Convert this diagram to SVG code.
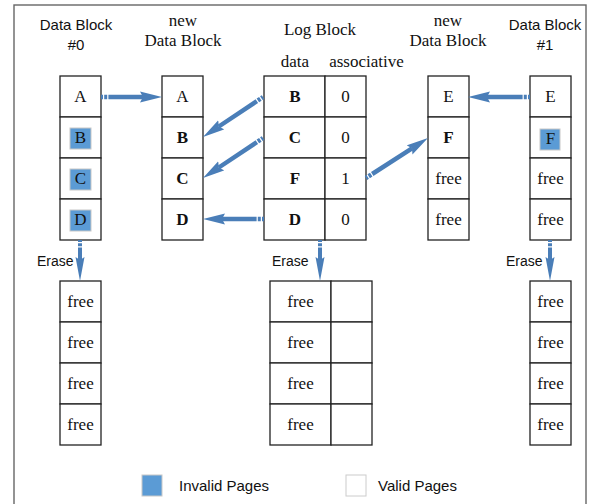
<svg xmlns="http://www.w3.org/2000/svg" width="593" height="504" viewBox="0 0 593 504">
<style>
.cell{fill:#fff;stroke:#222;stroke-width:1.3}
.s{font-family:"Liberation Serif","Times New Roman",serif;font-size:17px;fill:#111;text-anchor:middle}
.b{font-weight:bold}
.h{font-family:"Liberation Sans",Arial,sans-serif;font-size:15px;fill:#111;text-anchor:middle}
.e{font-family:"Liberation Sans",Arial,sans-serif;font-size:14px;fill:#111}
.inv{fill:#5b9bd5;stroke:#c8c8c8;stroke-width:1}
.arr{stroke:#4a7eb8;stroke-width:4.5;fill:none;stroke-dasharray:2 1.2 3 1.2 400}
</style>
<defs>
<marker id="ah" markerUnits="userSpaceOnUse" markerWidth="22" markerHeight="12" refX="3" refY="6" orient="auto">
<path d="M0,0.5 L22,6 L0,11.5 L3,6 z" fill="#4a7eb8"/>
</marker>
<marker id="ahv" markerUnits="userSpaceOnUse" markerWidth="24" markerHeight="10" refX="3" refY="5" orient="auto">
<path d="M0,0.5 L24,5 L0,9.5 L3,5 z" fill="#4a7eb8"/>
</marker>
</defs>
<rect x="14" y="5" width="572" height="520" fill="none" stroke="#666" stroke-width="1.4"/>

<g id="data-block-0">
<text class="h" x="76" y="30">Data Block</text>
<text class="h" x="76" y="50">#0</text>
<rect class="cell" x="60" y="76" width="41" height="41"/>
<rect class="cell" x="60" y="117" width="41" height="41"/>
<rect class="cell" x="60" y="158" width="41" height="41"/>
<rect class="cell" x="60" y="199" width="41" height="41"/>
<rect class="inv" x="70" y="128" width="21" height="21"/>
<rect class="inv" x="70" y="169" width="21" height="21"/>
<rect class="inv" x="70" y="210" width="21" height="21"/>
<text class="s" x="80.5" y="102">A</text>
<text class="s" x="80.5" y="143">B</text>
<text class="s" x="80.5" y="184">C</text>
<text class="s" x="80.5" y="225">D</text>
</g>

<g id="new-data-block-0">
<text class="s" x="183" y="26">new</text>
<text class="s" x="183" y="46">Data Block</text>
<rect class="cell" x="162" y="76" width="41" height="41"/>
<rect class="cell" x="162" y="117" width="41" height="41"/>
<rect class="cell" x="162" y="158" width="41" height="41"/>
<rect class="cell" x="162" y="199" width="41" height="41"/>
<text class="s" x="182.5" y="102">A</text>
<text class="s b" x="182.5" y="143">B</text>
<text class="s b" x="182.5" y="184">C</text>
<text class="s b" x="182.5" y="225">D</text>
</g>

<g id="log-block">
<text class="s" x="320" y="35">Log Block</text>
<text class="s" x="295" y="67">data</text>
<text class="s" x="366.5" y="67">associative</text>
<rect class="cell" x="264" y="76" width="61" height="41"/>
<rect class="cell" x="264" y="117" width="61" height="41"/>
<rect class="cell" x="264" y="158" width="61" height="41"/>
<rect class="cell" x="264" y="199" width="61" height="41"/>
<rect class="cell" x="325" y="76" width="41" height="41"/>
<rect class="cell" x="325" y="117" width="41" height="41"/>
<rect class="cell" x="325" y="158" width="41" height="41"/>
<rect class="cell" x="325" y="199" width="41" height="41"/>
<text class="s b" x="295" y="102">B</text>
<text class="s b" x="295" y="143">C</text>
<text class="s b" x="295" y="184">F</text>
<text class="s b" x="295" y="225">D</text>
<text class="s" x="345.5" y="102">0</text>
<text class="s" x="345.5" y="143">0</text>
<text class="s" x="345.5" y="184">1</text>
<text class="s" x="345.5" y="225">0</text>
</g>

<g id="new-data-block-1">
<text class="s" x="448" y="26">new</text>
<text class="s" x="448" y="46">Data Block</text>
<rect class="cell" x="428" y="76" width="41" height="41"/>
<rect class="cell" x="428" y="117" width="41" height="41"/>
<rect class="cell" x="428" y="158" width="41" height="41"/>
<rect class="cell" x="428" y="199" width="41" height="41"/>
<text class="s" x="448.5" y="102">E</text>
<text class="s b" x="448.5" y="143">F</text>
<text class="s" x="448.5" y="184">free</text>
<text class="s" x="448.5" y="225">free</text>
</g>

<g id="data-block-1">
<text class="h" x="545" y="30">Data Block</text>
<text class="h" x="545" y="50">#1</text>
<rect class="cell" x="530" y="76" width="41" height="41"/>
<rect class="cell" x="530" y="117" width="41" height="41"/>
<rect class="cell" x="530" y="158" width="41" height="41"/>
<rect class="cell" x="530" y="199" width="41" height="41"/>
<rect class="inv" x="540" y="129" width="20" height="21"/>
<text class="s" x="550.5" y="102">E</text>
<text class="s" x="550.5" y="144">F</text>
<text class="s" x="550.5" y="184">free</text>
<text class="s" x="550.5" y="225">free</text>
</g>

<g id="erased-block-0">
<rect class="cell" x="60" y="281" width="41" height="41"/>
<rect class="cell" x="60" y="322" width="41" height="41"/>
<rect class="cell" x="60" y="363" width="41" height="41"/>
<rect class="cell" x="60" y="404" width="41" height="41"/>
<text class="s" x="80.5" y="307">free</text>
<text class="s" x="80.5" y="348">free</text>
<text class="s" x="80.5" y="389">free</text>
<text class="s" x="80.5" y="430">free</text>
</g>

<g id="erased-log-block">
<rect class="cell" x="270" y="281" width="61" height="41"/>
<rect class="cell" x="270" y="322" width="61" height="41"/>
<rect class="cell" x="270" y="363" width="61" height="41"/>
<rect class="cell" x="270" y="404" width="61" height="41"/>
<rect class="cell" x="331" y="281" width="41" height="41"/>
<rect class="cell" x="331" y="322" width="41" height="41"/>
<rect class="cell" x="331" y="363" width="41" height="41"/>
<rect class="cell" x="331" y="404" width="41" height="41"/>
<text class="s" x="300.5" y="307">free</text>
<text class="s" x="300.5" y="348">free</text>
<text class="s" x="300.5" y="389">free</text>
<text class="s" x="300.5" y="430">free</text>
</g>

<g id="erased-block-1">
<rect class="cell" x="530" y="281" width="41" height="41"/>
<rect class="cell" x="530" y="322" width="41" height="41"/>
<rect class="cell" x="530" y="363" width="41" height="41"/>
<rect class="cell" x="530" y="404" width="41" height="41"/>
<text class="s" x="550.5" y="307">free</text>
<text class="s" x="550.5" y="348">free</text>
<text class="s" x="550.5" y="389">free</text>
<text class="s" x="550.5" y="430">free</text>
</g>

<g id="connectors">
<path class="arr" d="M101,97 L143,97" marker-end="url(#ah)"/>
<path class="arr" d="M263,97 L218.8,126.5" marker-end="url(#ah)"/>
<path class="arr" d="M263,138 L218.8,167.5" marker-end="url(#ah)"/>
<path class="arr" d="M264,219 L222,219" marker-end="url(#ah)"/>
<path class="arr" d="M366,178 L412,148.3" marker-end="url(#ah)"/>
<path class="arr" d="M530,97 L487,97" marker-end="url(#ah)"/>
<path class="arr" style="stroke-width:4" d="M80,240 L80,260" marker-end="url(#ahv)"/>
<path class="arr" style="stroke-width:4" d="M320,240 L320,260" marker-end="url(#ahv)"/>
<path class="arr" style="stroke-width:4" d="M550,240 L550,260" marker-end="url(#ahv)"/>
<text class="e" x="37" y="266">Erase</text>
<text class="e" x="272" y="266">Erase</text>
<text class="e" x="506" y="266">Erase</text>
</g>

<g id="legend">
<rect class="inv" x="142" y="475" width="20" height="21"/>
<text class="h" style="text-anchor:start" x="179" y="491">Invalid Pages</text>
<rect x="346" y="475" width="20" height="21" fill="#fff" stroke="#ccc" stroke-width="1"/>
<text class="h" style="text-anchor:start" x="378" y="491">Valid Pages</text>
</g>
</svg>
